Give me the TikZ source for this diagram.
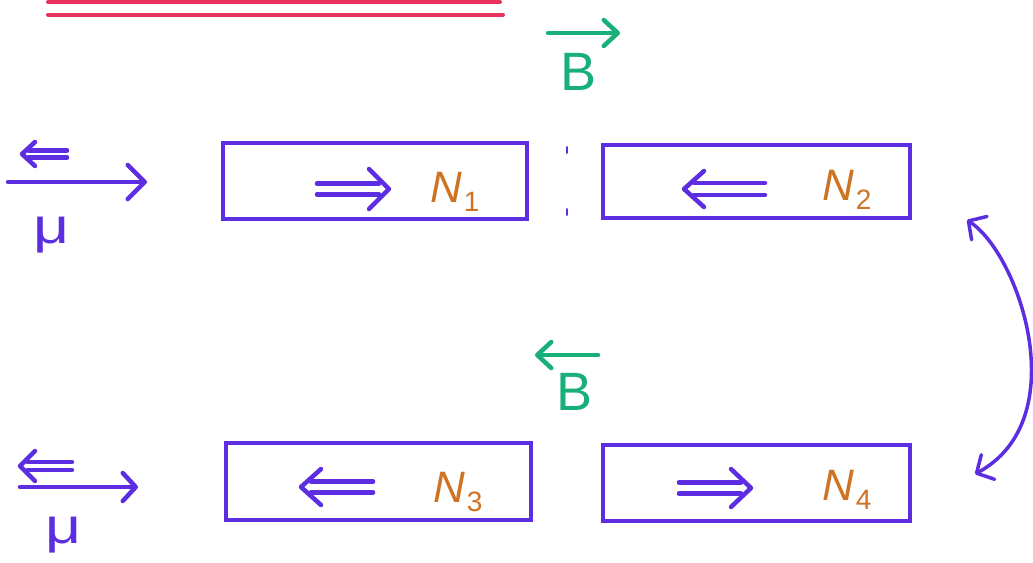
\documentclass[tikz,border=0pt]{standalone}
\usepackage{fontspec}
\setmainfont{Liberation Sans}
\usetikzlibrary{arrows.meta}
\definecolor{ink}{RGB}{92,45,225}
\definecolor{ora}{RGB}{205,115,35}
\definecolor{grn}{RGB}{25,175,120}
\definecolor{pnk}{RGB}{232,50,95}
\newcommand\DArrow[6]{% #1 tip x, #2 tail x, #3 y, #4 half gap, #5 arm x, #6 arm half-height
  \draw[pen] (#2,#3-#4) -- ({(#1+#5)/2},#3-#4) (#2,#3+#4) -- ({(#1+#5)/2},#3+#4);
  \draw[pen] (#5,#3-#6) -- (#1,#3) -- (#5,#3+#6);}
\newcommand\NLab[1]{\itshape N\kern2pt\raisebox{-9pt}{\upshape\fontsize{28}{28}\selectfont #1}}
\begin{document}
\begin{tikzpicture}[x=1pt,y=-1pt,
  pen/.style={draw=ink,line width=4.5pt,line cap=round,line join=round},
  magbox/.style={draw=ink,line width=4.5pt,inner sep=0pt,outer sep=0pt,rectangle},
  ntext/.style={text=ora,font=\fontsize{44}{44}\selectfont,inner sep=0pt,anchor=base west},
  btext/.style={text=grn,font=\fontsize{54}{54}\selectfont,inner sep=0pt,anchor=base west},
  mutext/.style={text=ink,font=\fontsize{50}{50}\selectfont,inner sep=0pt,anchor=base west},
  bigbarb/.tip={Straight Barb[length=17pt,width=34pt,line cap=round,line join=round]},
  midbarb/.tip={Straight Barb[length=13pt,width=28pt,line cap=round,line join=round]},
  gbarb/.tip={Straight Barb[length=14pt,width=26pt,line cap=round,line join=round]},
  gpen/.style={draw=grn,line width=4.5pt,line cap=round,line join=round},
  ppen/.style={draw=pnk,line width=4pt,line cap=round}]
\useasboundingbox (0,0) rectangle (1033,562);
% red lines at top
\draw[ppen] (48,2) -- (500,2);
\draw[ppen] (48,14.5) -- (503,14.5);
% boxes
\node[magbox,minimum width=304pt,minimum height=76pt] (b1) at (375,181) {};
\node[magbox,minimum width=307pt,minimum height=73pt] (b2) at (756.5,181.5) {};
\node[magbox,minimum width=305pt,minimum height=77pt] (b3) at (378.5,481.5) {};
\node[magbox,minimum width=307pt,minimum height=76pt] (b4) at (756.5,483) {};
% labels
\node[ntext] (n1) at (430,202) {\NLab{1}};
\node[ntext] (n2) at (822,200) {\NLab{2}};
\node[ntext] (n3) at (433,502) {\NLab{3}};
\node[ntext] (n4) at (822,500) {\NLab{4}};
% double arrows
\DArrow{389}{317}{189}{5.5}{369}{20}
\DArrow{684}{765}{189}{6}{704}{18}
\DArrow{301}{373}{487}{5.5}{321}{18}
\DArrow{751}{679}{488}{5.5}{731}{19}
\DArrow{22}{67}{154}{3.5}{35}{12}
\DArrow{20}{72}{466}{4}{35}{15}
% ticks between the upper boxes
\draw[pen,line width=2pt] (567,147) -- (567,153);
\draw[pen,line width=2pt] (567,209) -- (567,215);
% B fields
\coordinate (g1s) at (548,33);
\coordinate (g1e) at (620,33);
\draw[gpen,-gbarb] (g1s) -- (g1e);
\node[btext] (B1) at (560,90) {B};
\coordinate (g2s) at (598,355);
\coordinate (g2e) at (535,355);
\draw[gpen,-gbarb] (g2s) -- (g2e);
\node[btext] (B2) at (556,410) {B};
% mu arrows
\coordinate (m1s) at (8,182);
\coordinate (m1e) at (147,182);
\draw[pen,-bigbarb] (m1s) -- (m1e);
\node[mutext] (mu1) at (33,243) {\scalebox{1.25}[1]{μ}};
\coordinate (m2s) at (20,487);
\coordinate (m2e) at (138,487);
\draw[pen,-midbarb] (m2s) -- (m2e);
\node[mutext] (mu2) at (45,543) {\scalebox{1.25}[1]{μ}};
% curved exchange arrow
\coordinate (ct) at (967,220);
\coordinate (cb) at (975,474);
\draw[pen,line width=3.5pt,midbarb-midbarb]
  (ct) .. controls (1020,255) and (1075,420) .. (cb);
\end{tikzpicture}
\end{document}
